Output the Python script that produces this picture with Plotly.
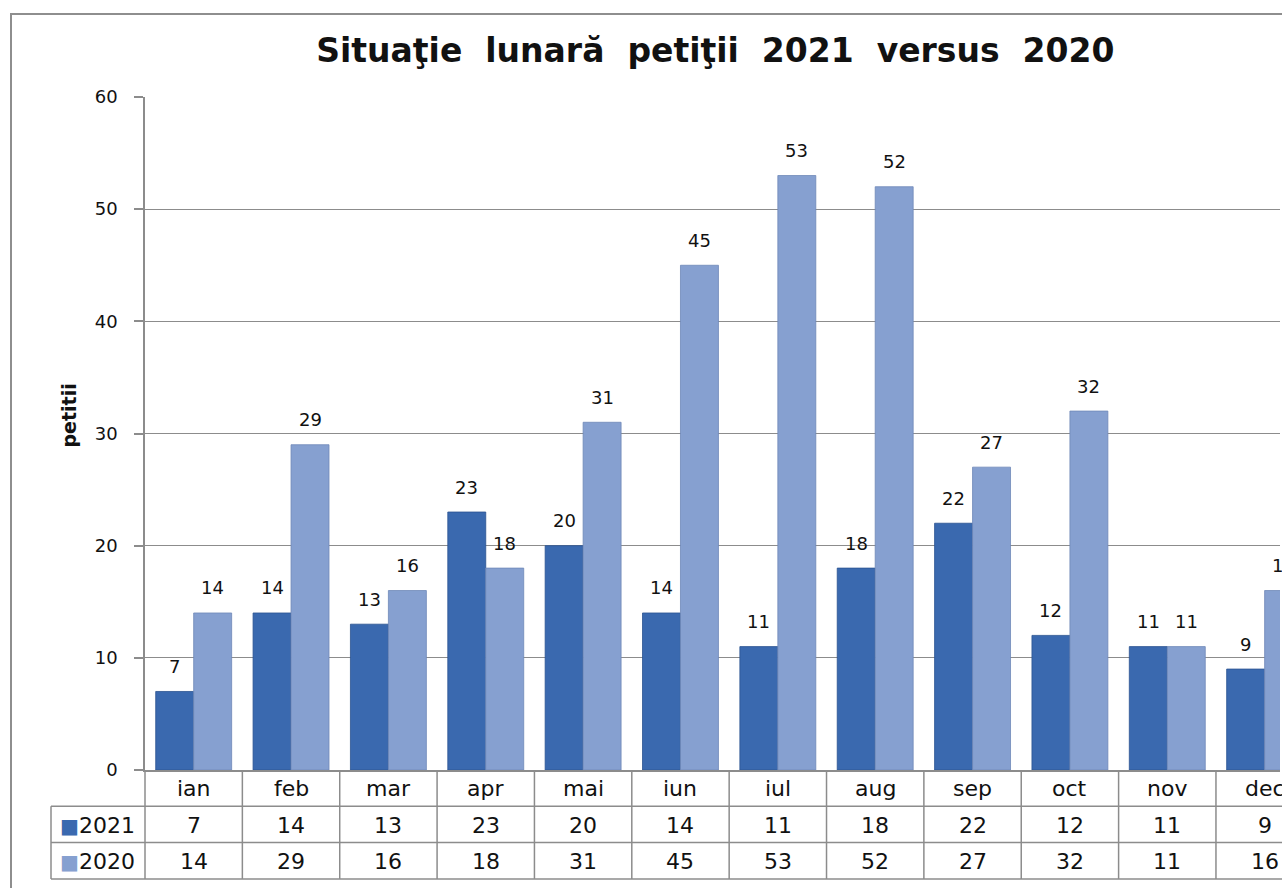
import plotly.graph_objects as go

months = ["ian", "feb", "mar", "apr", "mai", "iun", "iul", "aug", "sep", "oct", "nov", "dec"]
v2021 = [7, 14, 13, 23, 20, 14, 11, 18, 22, 12, 11, 9]
v2020 = [14, 29, 16, 18, 31, 45, 53, 52, 27, 32, 11, 16]
series_names = ["2021", "2020"]
y_ticks = [0, 10, 20, 30, 40, 50, 60]

C2021 = "#3A69AF"
C2020 = "#86A0D0"
GRID = "#8C8C8C"
FONT = "DejaVu Sans"

W, H = 1282, 888
ML, MR, MT, MB = 145, 2, 97, 118
cat_px = 97.36
x_end = -0.5 + (W - MR - ML) / cat_px

fig = go.Figure()
fig.add_trace(go.Bar(x=months, y=v2021, name=series_names[0], marker=dict(color=C2021, line=dict(color="#2B5390", width=0.8))))
fig.add_trace(go.Bar(x=months, y=v2020, name=series_names[1], marker=dict(color=C2020, line=dict(color="#6F88B8", width=0.8))))

ann = []
# data labels
for i, m in enumerate(months):
    for vals, dx in ((v2021, -19), (v2020, 19)):
        ann.append(dict(x=m, y=vals[i], xref="x", yref="y", text=str(vals[i]), showarrow=False,
                        xshift=dx, yshift=25, font=dict(family=FONT, size=18, color="#111")))

row_h = 36.3
TF = 22
# table text
for i, m in enumerate(months):
    ann.append(dict(x=m, y=0, xref="x", yref="paper", text=m, showarrow=False, yanchor="middle",
                    yshift=-row_h * 0.5 - 0.5, font=dict(family=FONT, size=TF, color="#111")))
    ann.append(dict(x=m, y=0, xref="x", yref="paper", text=str(v2021[i]), showarrow=False, yanchor="middle",
                    yshift=-row_h * 1.5 - 1, font=dict(family=FONT, size=TF, color="#111")))
    ann.append(dict(x=m, y=0, xref="x", yref="paper", text=str(v2020[i]), showarrow=False, yanchor="middle",
                    yshift=-row_h * 2.5 - 1, font=dict(family=FONT, size=TF, color="#111")))
for k, (nm, col) in enumerate(zip(series_names, [C2021, C2020])):
    ann.append(dict(x=0, y=0, xref="paper", yref="paper", xanchor="right", yanchor="middle",
                    xshift=-8, yshift=-row_h * (1.5 + k) - 1,
                    text=f'<span style="color:{col};font-size:20px">■</span>{nm}', showarrow=False,
                    font=dict(family=FONT, size=TF, color="#111")))

# y-axis title
ann.append(dict(x=0, y=0.5, xref="paper", yref="paper", text="<b>petitii</b>", textangle=-90,
                showarrow=False, xanchor="center", yanchor="middle", xshift=-77, yshift=18,
                font=dict(family=FONT, size=19, color="#111")))

shapes = []
LC = "#8C8C8C"
# horizontal table lines
for k in (1, 2, 3):
    shapes.append(dict(type="line", xref="paper", yref="paper", xsizemode="pixel", ysizemode="pixel",
                       xanchor=0, yanchor=0, x0=-94, x1=W, y0=-row_h * k, y1=-row_h * k,
                       line=dict(color=LC, width=1.5)))
# vertical lines at category boundaries
for i in range(1, len(months) + 1):
    shapes.append(dict(type="line", xref="x", yref="paper", ysizemode="pixel", yanchor=0,
                       x0=i - 0.5, x1=i - 0.5, y0=0, y1=-row_h * 3, line=dict(color=LC, width=1.5)))
# left line of plot and legend column
shapes.append(dict(type="line", xref="paper", yref="paper", ysizemode="pixel", yanchor=0,
                   x0=0, x1=0, y0=0, y1=-row_h * 3, line=dict(color=LC, width=1.5)))
shapes.append(dict(type="line", xref="paper", yref="paper", xsizemode="pixel", ysizemode="pixel",
                   xanchor=0, yanchor=0, x0=-94, x1=-94, y0=-row_h, y1=-row_h * 3,
                   line=dict(color=LC, width=1.5)))
# outer frame
shapes.append(dict(type="rect", xref="paper", yref="paper", xsizemode="pixel", ysizemode="pixel",
                   xanchor=0, yanchor=1, x0=-134, x1=W, y0=83, y1=-900,
                   line=dict(color="#8E8E8E", width=2), fillcolor="rgba(0,0,0,0)", layer="below"))

fig.update_layout(
    width=W, height=H,
    margin=dict(l=ML, r=MR, t=MT, b=MB, pad=0),
    paper_bgcolor="white", plot_bgcolor="white",
    barmode="group", bargap=0.22, bargroupgap=0,
    showlegend=False,
    title=dict(text="<b>Situaţie  lunară  petiţii  2021  versus  2020</b>", x=0.558, xanchor="center",
               y=1 - 50 / H, yanchor="middle", font=dict(family="DejaVu Sans", size=33, color="#111")),
    xaxis=dict(range=[-0.5, x_end], showticklabels=False, ticks="", showgrid=False,
               showline=True, linecolor=LC, linewidth=1.5, zeroline=False, fixedrange=True),
    yaxis=dict(range=[0, 60], tickvals=y_ticks, ticks="outside", ticklen=9, tickcolor=LC, tickwidth=1.5,
               showline=True, linecolor=LC, linewidth=1.5, gridcolor=GRID, gridwidth=1,
               zeroline=False, ticklabelstandoff=13,
               tickfont=dict(family=FONT, size=18, color="#111")),
    annotations=ann, shapes=shapes,
)

fig.write_html("out.html", config={"displayModeBar": False},
               post_script="document.body.style.margin='0';document.body.style.overflow='hidden';")
